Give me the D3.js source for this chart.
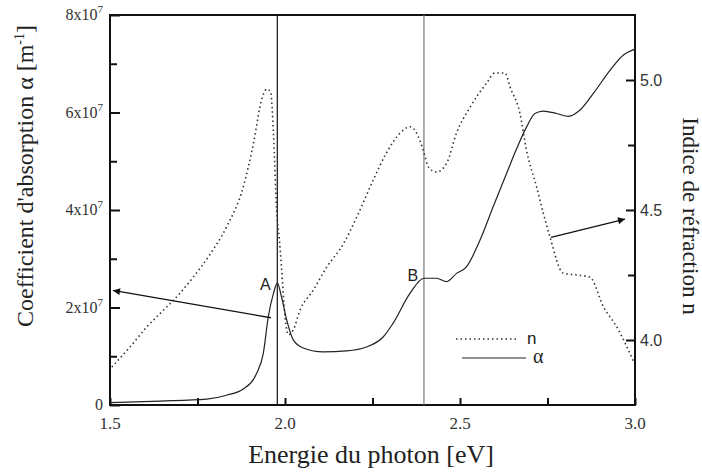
<!DOCTYPE html>
<html>
<head>
<meta charset="utf-8">
<script src="https://cdn.jsdelivr.net/npm/d3@7"></script>
<style>
  body { margin: 0; background: #fff; }
  svg { display: block; }
  .serif { font-family: "Times New Roman", Times, "Liberation Serif", "DejaVu Serif", "Noto Serif", "Nimbus Roman", FreeSerif, serif; }
  .sans { font-family: "Liberation Sans", Arial, Helvetica, sans-serif; }
</style>
</head>
<body>
<svg id="chart" width="702" height="473"></svg>
<script>
// photon energy (eV) and absorption coefficient alpha (units of 1e7 m^-1)
var alphaE = [1.5, 1.643, 1.776, 1.833, 1.881, 1.919, 1.938, 1.952, 1.967, 1.978, 1.99, 2.005, 2.024, 2.052,
  2.11, 2.176, 2.233, 2.281, 2.309, 2.357, 2.397, 2.433, 2.462, 2.49, 2.519, 2.557, 2.595, 2.633, 2.662,
  2.69, 2.714, 2.738, 2.776, 2.81, 2.843, 2.881, 2.929, 2.967, 3.0];
var alphaV = [0.05, 0.08, 0.12, 0.2, 0.33, 0.65, 1.06, 1.8, 2.29, 2.5, 2.22, 1.74, 1.33, 1.17,
  1.09, 1.11, 1.19, 1.4, 1.68, 2.29, 2.6, 2.6, 2.53, 2.7, 2.84, 3.38, 4.07, 4.75, 5.26,
  5.7, 5.98, 6.03, 5.98, 5.92, 6.05, 6.39, 6.87, 7.18, 7.3];

// refractive index n
var nE = [1.505, 1.557, 1.605, 1.662, 1.7, 1.738, 1.786, 1.833, 1.881, 1.91, 1.933, 1.948, 1.959, 1.967,
  1.976, 1.984, 1.99, 2.0, 2.01, 2.024, 2.043, 2.08, 2.119, 2.167, 2.205, 2.252, 2.29, 2.329, 2.357,
  2.376, 2.395, 2.41, 2.433, 2.462, 2.49, 2.529, 2.576, 2.6, 2.629, 2.643, 2.671, 2.69, 2.719, 2.738,
  2.757, 2.795, 2.833, 2.871, 2.91, 2.948, 2.995];
var nV = [3.896, 3.973, 4.05, 4.127, 4.18, 4.242, 4.33, 4.435, 4.59, 4.757, 4.923, 4.965, 4.954, 4.796,
  4.5, 4.385, 4.28, 4.09, 4.02, 4.04, 4.115, 4.19, 4.28, 4.37, 4.473, 4.615, 4.72, 4.796, 4.82,
  4.796, 4.73, 4.665, 4.646, 4.68, 4.796, 4.896, 4.988, 5.027, 5.027, 4.973, 4.873, 4.73, 4.588, 4.488,
  4.396, 4.257, 4.25, 4.242, 4.127, 4.05, 3.92];

// marked transitions A and B (energy, alpha at the mark)
var markE = [1.978, 2.397];
var markA = [2.5, 2.6];
var markLabel = ["A", "B"];
var markColor = ["#111", "#777"];

var xTicks = [1.5, 2.0, 2.5, 3.0];
var xMinor = [1.75, 2.25, 2.75];
var leftTicks = [0, 2, 4, 6, 8];
var leftMinor = [1, 3, 5, 7];
var rightTicks = [4.0, 4.5, 5.0];
var rightMinor = [4.25, 4.75];

var svg = d3.select("#chart");
var M = {left: 110, right: 635, top: 15, bottom: 405};

var x = d3.scaleLinear().domain([1.5, 3.0]).range([M.left, M.right]);
var yL = d3.scaleLinear().domain([0, 8]).range([M.bottom, M.top]);
var yR = d3.scaleLinear().domain([3.75, 5.25]).range([M.bottom, M.top]);

svg.append("defs").append("marker")
  .attr("id", "arr").attr("viewBox", "0 0 10 10")
  .attr("refX", 10).attr("refY", 5)
  .attr("markerWidth", 12).attr("markerHeight", 7)
  .attr("markerUnits", "userSpaceOnUse")
  .attr("orient", "auto")
  .append("path").attr("d", "M0,0 L10,5 L0,10 Z").attr("fill", "#111");

// inward ticks
var axB = svg.append("g").attr("transform", "translate(0," + M.bottom + ")");
axB.call(d3.axisTop(x).tickValues(xTicks).tickSize(7).tickFormat(""));
axB.append("g").call(d3.axisTop(x).tickValues(xMinor).tickSize(7).tickFormat(""));
axB.selectAll(".domain").remove();
axB.selectAll("line").attr("stroke", "#111").attr("stroke-width", 2);
svg.append("g").selectAll("text").data(xTicks).join("text")
  .attr("class", "serif")
  .attr("x", function(d) { return x(d); }).attr("y", 429)
  .attr("text-anchor", "middle").attr("font-size", 17).attr("fill", "#333")
  .text(function(d) { return d.toFixed(1); });

var axL = svg.append("g").attr("transform", "translate(" + M.left + ",0)");
axL.call(d3.axisRight(yL).tickValues(leftTicks).tickSize(10).tickFormat(""));
axL.append("g").call(d3.axisRight(yL).tickValues(leftMinor).tickSize(7).tickFormat(""));
axL.selectAll(".domain").remove();
axL.selectAll("line").attr("stroke", "#111").attr("stroke-width", 2);
var lt = svg.append("g").selectAll("text").data(leftTicks).join("text")
  .attr("class", "serif")
  .attr("x", 103).attr("y", function(d) { return yL(d) + 5; })
  .attr("text-anchor", "end").attr("font-size", 16).attr("fill", "#333");
lt.each(function(d) {
  var t = d3.select(this);
  if (d === 0) { t.text("0"); return; }
  t.append("tspan").text(d + "x10");
  t.append("tspan").attr("dy", -7).attr("font-size", 11).text("7");
});

var axR = svg.append("g").attr("transform", "translate(" + M.right + ",0)");
axR.call(d3.axisLeft(yR).tickValues(rightTicks).tickSize(9).tickFormat(""));
axR.append("g").call(d3.axisLeft(yR).tickValues(rightMinor).tickSize(7).tickFormat(""));
axR.selectAll(".domain").remove();
axR.selectAll("line").attr("stroke", "#111").attr("stroke-width", 2);
svg.append("g").selectAll("text").data(rightTicks).join("text")
  .attr("class", "sans")
  .attr("x", 640).attr("y", function(d) { return yR(d) + 6; })
  .attr("font-size", 16).attr("fill", "#333")
  .text(function(d) { return d.toFixed(1); });

// frame
svg.append("rect")
  .attr("x", M.left).attr("y", M.top)
  .attr("width", M.right - M.left).attr("height", M.bottom - M.top)
  .attr("fill", "none").attr("stroke", "#111").attr("stroke-width", 2);

// vertical markers
svg.append("g").selectAll("line").data(markE).join("line")
  .attr("x1", function(d) { return x(d); }).attr("x2", function(d) { return x(d); })
  .attr("y1", M.top).attr("y2", M.bottom)
  .attr("stroke", function(d, i) { return markColor[i]; }).attr("stroke-width", 1.2);

var alphaData = alphaE.map(function(e, i) { return [e, alphaV[i]]; });
var nData = nE.map(function(e, i) { return [e, nV[i]]; });

var lineA = d3.line().x(function(d) { return x(d[0]); }).y(function(d) { return yL(d[1]); }).curve(d3.curveMonotoneX);
var lineN = d3.line().x(function(d) { return x(d[0]); }).y(function(d) { return yR(d[1]); }).curve(d3.curveMonotoneX);

svg.append("path").attr("d", lineN(nData))
  .attr("fill", "none").attr("stroke", "#333").attr("stroke-width", 1.6)
  .attr("stroke-dasharray", "1.5,3");

svg.append("path").attr("d", lineA(alphaData))
  .attr("fill", "none").attr("stroke", "#222").attr("stroke-width", 1.2);

// A / B labels
svg.append("g").selectAll("text").data(markE).join("text")
  .attr("class", "sans")
  .attr("x", function(d, i) { return x(d) - (i === 0 ? 12 : 11); })
  .attr("y", function(d, i) { return yL(markA[i]) + (i === 0 ? 7 : 3); })
  .attr("text-anchor", "middle").attr("font-size", 16).attr("fill", "#222")
  .text(function(d, i) { return markLabel[i]; });

// arrows pointing at the axes
svg.append("line")
  .attr("x1", x(1.96)).attr("y1", yL(1.79))
  .attr("x2", M.left + 3).attr("y2", yL(2.35))
  .attr("stroke", "#111").attr("stroke-width", 1.3).attr("marker-end", "url(#arr)");
svg.append("line")
  .attr("x1", x(2.76)).attr("y1", yR(4.395))
  .attr("x2", M.right - 10).attr("y2", yR(4.465))
  .attr("stroke", "#111").attr("stroke-width", 1.3).attr("marker-end", "url(#arr)");

// legend
var lg = svg.append("g");
lg.append("line").attr("x1", 456).attr("x2", 518).attr("y1", 339).attr("y2", 339)
  .attr("stroke", "#333").attr("stroke-width", 1.6).attr("stroke-dasharray", "1.5,3");
lg.append("text").attr("class", "sans").attr("x", 527).attr("y", 344).attr("font-size", 17)
  .attr("fill", "#222").text("n");
lg.append("line").attr("x1", 462).attr("x2", 526).attr("y1", 358).attr("y2", 358)
  .attr("stroke", "#222").attr("stroke-width", 1.2);
lg.append("text").attr("class", "serif").attr("x", 533).attr("y", 363).attr("font-size", 20)
  .attr("fill", "#222").text("α");

// axis titles
svg.append("text").attr("class", "serif").attr("x", 371).attr("y", 463).attr("text-anchor", "middle")
  .attr("font-size", 26).attr("fill", "#222")
  .text("Energie du photon [eV]");

var tl = svg.append("text").attr("class", "serif")
  .attr("transform", "translate(33,176) rotate(-90)")
  .attr("text-anchor", "middle").attr("font-size", 24).attr("fill", "#222");
tl.append("tspan").text("Coefficient d'absorption  α [m");
tl.append("tspan").attr("dy", -9).attr("font-size", 14).text("-1");
tl.append("tspan").attr("dy", 9).text("]");

svg.append("text").attr("class", "serif")
  .attr("transform", "translate(683,216) rotate(90)")
  .attr("text-anchor", "middle").attr("font-size", 23).attr("fill", "#222")
  .text("Indice de réfraction n");
</script>
</body>
</html>
